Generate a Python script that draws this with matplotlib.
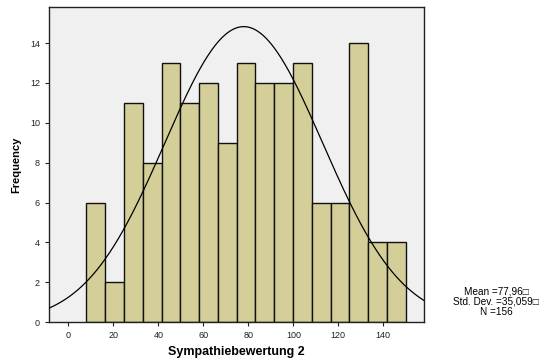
import numpy as np
import matplotlib
matplotlib.use('Agg')
import matplotlib.pyplot as plt

plt.rcParams['font.family'] = ['Liberation Sans', 'DejaVu Sans']

# Data
bin_min = 8
bin_max = 150
counts = [6, 2, 11, 8, 13, 11, 12, 9, 13, 12, 12, 13, 6, 6, 14, 4, 4]
mean = 77.96
std = 35.059
n = 156
x_ticks = [0, 20, 40, 60, 80, 100, 120, 140]
y_ticks = [0, 2, 4, 6, 8, 10, 12, 14]


def main():
    edges = np.linspace(bin_min, bin_max, len(counts) + 1)
    widths = np.diff(edges)

    fig = plt.figure(figsize=(5.48, 3.62), dpi=100)
    ax = fig.add_axes([0.0894, 0.11, 0.684, 0.87])
    ax.set_facecolor('#f0f0f0')

    ax.bar(edges[:-1], counts, width=widths, align='edge',
           color='#d4cf99', edgecolor='#111111', linewidth=1.0, zorder=2)

    # normal curve scaled to the histogram
    xs = np.linspace(-8.6, 158, 400)
    scale = n * widths[0]
    ys = scale / (std * np.sqrt(2 * np.pi)) * np.exp(-0.5 * ((xs - mean) / std) ** 2)
    ax.plot(xs, ys, color='black', linewidth=0.9, zorder=3)

    ax.set_xlim(-8.6, 158)
    ax.set_ylim(0, 15.8)
    ax.set_xticks(x_ticks)
    ax.set_yticks(y_ticks)
    ax.tick_params(labelsize=6.5, length=3, width=0.8, colors='#222222')

    for s in ax.spines.values():
        s.set_linewidth(1.0)
        s.set_color('#222222')

    ax.set_xlabel('Sympathiebewertung 2', fontsize=9, fontweight='bold', labelpad=4)
    ax.set_ylabel('Frequency', fontsize=8, fontweight='bold', labelpad=6)

    fig.text(0.905, 0.166, 'Mean =77,96\u25a1\nStd. Dev. =35,059\u25a1\nN =156',
             ha='center', va='center', fontsize=7.2, linespacing=1.05,
             family=['Liberation Sans', 'DejaVu Sans'])

    plt.savefig('out.png', dpi=100)


if __name__ == '__main__':
    main()
